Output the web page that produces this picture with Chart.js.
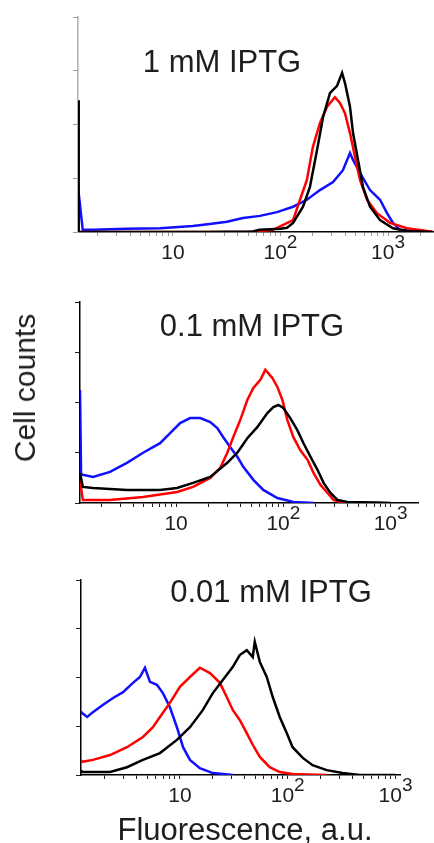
<!DOCTYPE html>
<html>
<head>
<meta charset="utf-8">
<script src="https://cdn.jsdelivr.net/npm/chart.js@4/dist/chart.umd.min.js"></script>
<style>
  body { margin: 0; background: #fff; width: 434px; height: 843px; position: relative; overflow: hidden; }
  canvas { position: absolute; left: 0; }
  .txt { position: absolute; font-family: "Liberation Sans", Arial, sans-serif; color: #1e1e1e;
         line-height: 1; white-space: nowrap; transform: translate(-50%, -50%); }
</style>
</head>
<body>
<canvas id="p1" width="434" height="275" style="top:0px"></canvas>
<canvas id="p2" width="434" height="265" style="top:285px"></canvas>
<canvas id="p3" width="434" height="250" style="top:565px"></canvas>

<div class="txt" style="left:222px; top:61px; font-size:31px">1 mM IPTG</div>
<div class="txt" style="left:252px; top:325px; font-size:31px">0.1 mM IPTG</div>
<div class="txt" style="left:271px; top:591px; font-size:31px">0.01 mM IPTG</div>
<div class="txt" style="left:25px; top:388px; font-size:30px; transform: translate(-50%, -50%) rotate(-90deg)">Cell counts</div>
<div class="txt" style="left:245px; top:829px; font-size:31px">Fluorescence, a.u.</div>

<script>
// decade tick labels (10, 10^2, 10^3)
const decadeTicks = [10, 100, 1000];

// ---- 1 mM IPTG ----
const p1BlackX = [1.31, 1.33, 20, 55, 64, 80, 100, 115, 131, 162, 188, 219, 249, 289, 336, 374, 398, 443, 473, 526, 585, 680, 843, 1113, 1503, 2000, 2600];
const p1BlackY = [2.45, 0, 0, 0.01, 0.04, 0.05, 0.06, 0.08, 0.17, 0.47, 0.84, 1.53, 2.14, 2.59, 2.72, 2.96, 2.77, 2.33, 1.84, 1.34, 0.84, 0.47, 0.22, 0.07, 0.02, 0.01, 0];
const p1RedX = [1.31, 50, 85, 131, 152, 176, 200, 233, 271, 321, 357, 398, 443, 493, 549, 638, 790, 1045, 1503, 2306, 2600];
const p1RedY = [0, 0, 0.04, 0.22, 0.6, 0.97, 1.58, 2.03, 2.33, 2.51, 2.4, 2.21, 1.84, 1.4, 0.97, 0.6, 0.35, 0.17, 0.07, 0.02, 0];
const p1BlueX = [1.31, 1.45, 1.8, 3.7, 7.6, 15.3, 22, 31.8, 44.8, 64.5, 92.8, 131, 176, 233, 308, 381, 443, 473, 549, 680, 843, 979, 1113, 1294, 1710, 2600];
const p1BlueY = [0.84, 0.04, 0.04, 0.06, 0.07, 0.11, 0.15, 0.19, 0.26, 0.3, 0.37, 0.47, 0.6, 0.78, 0.93, 1.15, 1.47, 1.34, 1.1, 0.78, 0.6, 0.35, 0.17, 0.04, 0.02, 0];

// ---- 0.1 mM IPTG ----
const p2BlackX = [1.27, 1.35, 1.68, 3.48, 7.09, 10.2, 14.4, 20.8, 30, 37.2, 46.1, 57.1, 70.9, 80.7, 89.8, 100, 116, 135, 154, 179, 208, 237, 275, 320, 396, 756, 1000];
const p2BlackY = [0.6, 0.32, 0.3, 0.26, 0.26, 0.3, 0.4, 0.52, 0.8, 1.0, 1.29, 1.51, 1.79, 1.91, 1.95, 1.89, 1.69, 1.45, 1.19, 0.92, 0.66, 0.4, 0.2, 0.06, 0.02, 0.01, 0];
const p2RedX = [1.27, 1.35, 2.42, 4.92, 10.2, 14.4, 20.8, 25.8, 30, 34.1, 39.6, 46.1, 52.5, 61, 67.9, 78.9, 87.9, 97.9, 109, 124, 144, 168, 191, 222, 258, 293, 341, 400];
const p2RedY = [0.45, 0.06, 0.06, 0.12, 0.22, 0.32, 0.5, 0.7, 1.0, 1.31, 1.65, 2.05, 2.29, 2.45, 2.65, 2.49, 2.31, 2.05, 1.65, 1.31, 1.05, 0.86, 0.6, 0.36, 0.2, 0.06, 0.02, 0];
const p2BlueX = [1.27, 1.3, 1.35, 1.68, 2.42, 3.48, 4.92, 7.09, 8.79, 10.9, 13.5, 16.8, 20.8, 24.2, 27.5, 32, 37.2, 42.3, 52.5, 65, 87.9, 124, 191];
const p2BlueY = [2.25, 0.56, 0.56, 0.52, 0.62, 0.8, 1.0, 1.19, 1.39, 1.59, 1.69, 1.69, 1.61, 1.49, 1.31, 1.11, 0.92, 0.72, 0.46, 0.26, 0.1, 0.02, 0];

// ---- 0.01 mM IPTG ----
const p3BlackX = [1.21, 1.24, 2.25, 3.23, 4.54, 6.53, 9.38, 12.4, 16.3, 20.2, 25, 31, 35.9, 41.7, 47.4, 49.5, 55.1, 63.9, 72.6, 84.3, 97.9, 111, 138, 170, 230, 323, 464, 1000];
const p3BlackY = [0.1, 0.06, 0.06, 0.16, 0.31, 0.45, 0.72, 0.98, 1.33, 1.68, 1.95, 2.22, 2.46, 2.56, 2.42, 2.73, 2.32, 2.01, 1.6, 1.19, 0.86, 0.57, 0.35, 0.2, 0.1, 0.04, 0, 0];
const p3RedX = [1.21, 1.24, 1.56, 2.25, 3.23, 4.54, 5.62, 6.53, 8.08, 10, 12.4, 15.3, 19, 23.5, 27.2, 31, 35.9, 41.7, 47.4, 55.1, 68.1, 84.3, 111, 230];
const p3RedY = [0.3, 0.27, 0.31, 0.41, 0.57, 0.78, 0.98, 1.19, 1.48, 1.81, 2.01, 2.2, 2.09, 1.89, 1.6, 1.33, 1.13, 0.86, 0.62, 0.37, 0.16, 0.06, 0.02, 0];
const p3BlueX = [1.21, 1.24, 1.38, 1.56, 1.94, 2.4, 2.97, 3.67, 4.26, 4.74, 5.28, 6.12, 6.96, 8.08, 9.38, 10.7, 12.4, 15.3, 20.2, 31];
const p3BlueY = [1.3, 1.27, 1.19, 1.29, 1.44, 1.58, 1.7, 1.89, 2.01, 2.2, 1.91, 1.85, 1.68, 1.39, 0.98, 0.57, 0.31, 0.14, 0.04, 0];

const FONT = '"Liberation Sans", Arial, sans-serif';

// log minor ticks 1..9 x 10^k
const minorTicks = [];
[1, 10, 100, 1000].forEach(d => { for (let i = 1; i <= 9; i++) minorTicks.push(i * d); });

const pts = (xs, ys) => xs.map((x, i) => ({ x: x, y: ys[i] }));

// draws "10", "10^2", "10^3" below the x axis
const decadeLabels = {
  id: 'decadeLabels',
  afterDraw(chart) {
    const xs = chart.scales.x;
    const ctx = chart.ctx;
    const y = chart.chartArea.bottom + 21;
    ctx.save();
    ctx.fillStyle = '#1e1e1e';
    ctx.textBaseline = 'middle';
    ctx.textAlign = 'left';
    decadeTicks.forEach(d => {
      if (d < xs.min || d > xs.max) return;
      const px = xs.getPixelForValue(d);
      const exp = Math.round(Math.log10(d));
      ctx.font = '21px ' + FONT;
      const bw = ctx.measureText('10').width;
      let sw = 0;
      if (exp > 1) { ctx.font = '19px ' + FONT; sw = ctx.measureText(String(exp)).width; }
      const left = px - (bw + sw) / 2;
      ctx.font = '21px ' + FONT;
      ctx.fillText('10', left, y);
      if (exp > 1) { ctx.font = '19px ' + FONT; ctx.fillText(String(exp), left + bw, y - 10); }
    });
    ctx.restore();
  }
};

function panel(id, cfg) {
  const line = (xs, ys, color) => ({
    data: pts(xs, ys), borderColor: color, borderWidth: 2.5,
    pointRadius: 0, tension: 0, fill: false
  });
  new Chart(document.getElementById(id), {
    type: 'line',
    data: {
      datasets: [
        line(cfg.black[0], cfg.black[1], '#000000'),
        line(cfg.red[0], cfg.red[1], '#ff0000'),
        line(cfg.blue[0], cfg.blue[1], '#1010ff')
      ]
    },
    options: {
      responsive: false,
      animation: false,
      layout: { padding: cfg.pad },
      plugins: { legend: { display: false }, tooltip: { enabled: false } },
      scales: {
        x: {
          type: 'logarithmic', min: cfg.min, max: cfg.max,
          afterBuildTicks: s => { s.ticks = minorTicks.filter(v => v >= s.min && v <= s.max).map(v => ({ value: v })); },
          afterFit: s => { s.height = 8; },
          ticks: { display: false },
          grid: { drawOnChartArea: false, drawTicks: true, tickLength: 4, color: cfg.tickColor },
          border: { display: true, color: '#000', width: 1.5 }
        },
        y: {
          min: 0, max: 4,
          afterFit: s => { s.width = 8; },
          ticks: { display: false, stepSize: 1 },
          grid: { drawOnChartArea: false, drawTicks: true, tickLength: 5, color: cfg.tickColor },
          border: { display: true, color: cfg.axisColor, width: 1.5 }
        }
      }
    },
    plugins: [decadeLabels]
  });
}

panel('p1', {
  black: [p1BlackX, p1BlackY], red: [p1RedX, p1RedY], blue: [p1BlueX, p1BlueY],
  min: 1.31, max: 2620, pad: { left: 70, top: 17, right: 1, bottom: 35 },
  tickColor: '#9a9a9a', axisColor: '#b0b0b0'
});
panel('p2', {
  black: [p2BlackX, p2BlackY], red: [p2RedX, p2RedY], blue: [p2BlueX, p2BlueY],
  min: 1.27, max: 1800, pad: { left: 72, top: 17, right: 16, bottom: 39 },
  tickColor: '#222', axisColor: '#000'
});
panel('p3', {
  black: [p3BlackX, p3BlackY], red: [p3RedX, p3RedY], blue: [p3BlueX, p3BlueY],
  min: 1.21, max: 1100, pad: { left: 73, top: 15, right: 34, bottom: 32 },
  tickColor: '#222', axisColor: '#000'
});
</script>
</body>
</html>
